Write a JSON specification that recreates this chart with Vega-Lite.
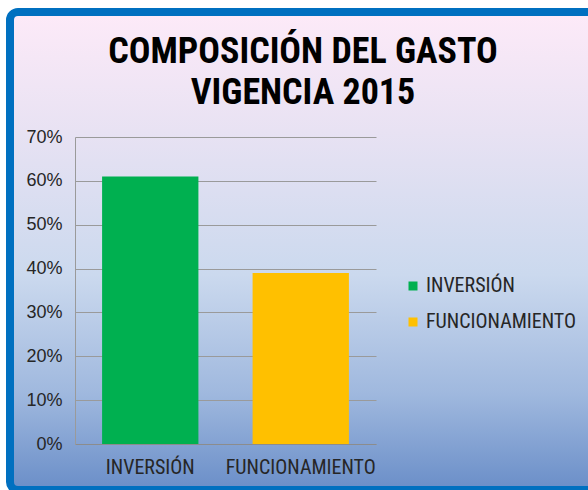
{
  "$schema": "https://vega.github.io/schema/vega-lite/v6.json",
  "width": 586,
  "height": 478,
  "autosize": {"type": "none"},
  "padding": {"left": 10, "top": 12, "right": -8, "bottom": 0},
  "background": "#ffffff",
  "title": {
    "text": ["COMPOSICIÓN DEL GASTO", "VIGENCIA 2015"],
    "font": "'Roboto Condensed', 'Noto Sans Condensed', 'DejaVu Sans Condensed', 'Liberation Sans'",
    "fontWeight": "bold",
    "fontSize": 36,
    "lineHeight": 41,
    "color": "#000000",
    "anchor": "middle",
    "frame": "group",
    "offset": -100
  },
  "data": {
    "values": [
      {"concepto": "INVERSIÓN", "valor": 0.61},
      {"concepto": "FUNCIONAMIENTO", "valor": 0.39}
    ]
  },
  "mark": {"type": "bar"},
  "encoding": {
    "x": {
      "field": "concepto",
      "type": "nominal",
      "sort": null,
      "scale": {"range": [65, 366], "paddingInner": 0.36, "paddingOuter": 0.18},
      "axis": {
        "title": null,
        "labelAngle": 0,
        "offset": -46,
        "ticks": false,
        "grid": false,
        "domain": true,
        "domainColor": "#8c8c8c",
        "labelPadding": 13,
        "labelLimit": 0,
        "labelFont": "'Roboto Condensed', 'Noto Sans Condensed', 'DejaVu Sans Condensed', 'Liberation Sans'",
        "labelFontSize": 20,
        "labelColor": "#262626"
      }
    },
    "y": {
      "field": "valor",
      "type": "quantitative",
      "scale": {"domain": [0, 0.7], "range": [432, 125], "nice": false},
      "axis": {
        "title": null,
        "format": ".0%",
        "values": [0, 0.1, 0.2, 0.3, 0.4, 0.5, 0.6, 0.7],
        "offset": -65,
        "ticks": false,
        "grid": true,
        "gridColor": "#9a9a9a",
        "gridWidth": 1,
        "domain": true,
        "domainColor": "#9a9a9a",
        "labelPadding": 13,
        "labelFont": "Liberation Sans",
        "labelFontSize": 18,
        "labelColor": "#262626"
      }
    },
    "color": {
      "field": "concepto",
      "type": "nominal",
      "sort": null,
      "scale": {"domain": ["INVERSIÓN", "FUNCIONAMIENTO"], "range": ["#00b050", "#ffc000"]},
      "legend": {
        "title": null,
        "orient": "none",
        "legendX": 393,
        "legendY": 264,
        "padding": 0,
        "symbolType": "square",
        "symbolSize": 81,
        "symbolStrokeWidth": 0,
        "symbolOpacity": 1,
        "labelOffset": 3,
        "rowPadding": 16,
        "labelLimit": 0,
        "labelFont": "'Roboto Condensed', 'Noto Sans Condensed', 'DejaVu Sans Condensed', 'Liberation Sans'",
        "labelFontSize": 20,
        "labelColor": "#262626"
      }
    }
  },
  "config": {
    "view": {
      "fill": {
        "gradient": "linear",
        "x1": 0, "y1": 0, "x2": 0, "y2": 1,
        "stops": [
          {"offset": 0, "color": "#fdeaf8"},
          {"offset": 0.25, "color": "#e8e2f3"},
          {"offset": 0.55, "color": "#cbd9ee"},
          {"offset": 0.8, "color": "#9fb8de"},
          {"offset": 1, "color": "#6a8ec8"}
        ]
      },
      "stroke": "#0070c0",
      "strokeWidth": 8,
      "cornerRadius": 8
    }
  }
}
